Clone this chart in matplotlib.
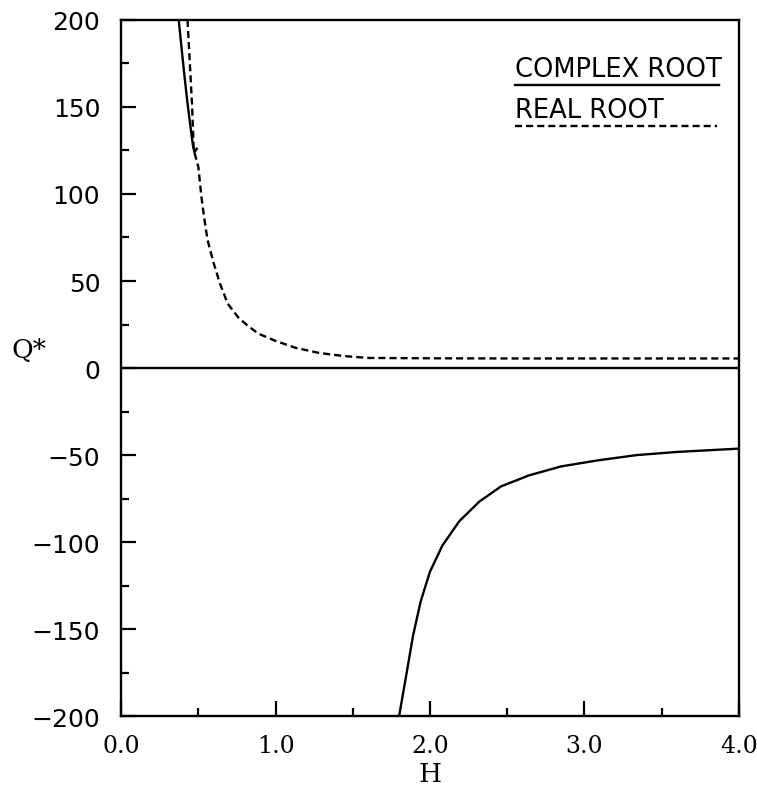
import matplotlib
matplotlib.use("Agg")
import matplotlib.pyplot as plt
from matplotlib.ticker import MultipleLocator

# complex root, upper branch (short piece near H ~ 0.4)
complex_up_h = [0.373, 0.39, 0.41, 0.43, 0.45, 0.465, 0.475, 0.49]
complex_up_q = [200, 185, 168, 152, 138, 128, 124, 126]

# complex root, lower branch
complex_low_h = [1.80, 1.85, 1.89, 1.94, 2.00, 2.08, 2.19, 2.32, 2.46, 2.64, 2.85, 3.09, 3.34, 3.60, 4.0]
complex_low_q = [-200, -174.6, -153.9, -134, -117, -102, -88, -76.7, -68, -61.7, -56.5, -53, -50, -48.2, -46.3]

# real root
real_h = [0.43, 0.46, 0.47, 0.50, 0.52, 0.54, 0.56, 0.60, 0.64, 0.69, 0.76, 0.82, 0.89,
          1.00, 1.13, 1.28, 1.44, 1.60, 2.0, 2.5, 3.0, 4.0]
real_q = [200, 150, 125.4, 115.6, 98.3, 85, 73.4, 60, 48.6, 37, 28.9, 24.3, 19.7,
          15.6, 11.6, 8.7, 6.9, 5.8, 5.6, 5.5, 5.5, 5.5]

x_ticks = [0, 1, 2, 3, 4]
x_tick_labels = ["0.0", "1.0", "2.0", "3.0", "4.0"]

xlim = (0, 4)
ylim = (-200, 200)

fig = plt.figure(figsize=(7.57, 8.04), dpi=100)
ax = fig.add_axes([0.160, 0.108, 0.816, 0.866])

lw = 1.7
dash = (3.0, 1.7)
ax.plot(complex_up_h, complex_up_q, color="black", lw=lw)
ax.plot(complex_low_h, complex_low_q, color="black", lw=lw)
ax.plot(real_h, real_q, color="black", lw=lw, dashes=dash)
ax.axhline(0, color="black", lw=lw)

ax.set_xlim(*xlim)
ax.set_ylim(*ylim)

for s in ax.spines.values():
    s.set_linewidth(1.7)

ax.set_xticks(x_ticks, x_tick_labels, family="DejaVu Serif", fontsize=17)
ax.xaxis.set_minor_locator(MultipleLocator(0.5))
ax.yaxis.set_major_locator(MultipleLocator(50))
ax.yaxis.set_minor_locator(MultipleLocator(25))

ax.tick_params(which="both", direction="in", top=False, right=False, width=1.6)
ax.tick_params(which="major", length=11)
ax.tick_params(which="minor", length=6)
ax.tick_params(axis="y", which="major", pad=15, labelsize=18)
ax.tick_params(axis="x", which="major", pad=13)

ax.set_xlabel("H", family="DejaVu Serif", fontsize=19, labelpad=3)
ax.text(-0.15, 0.527, "Q*", transform=ax.transAxes, family="DejaVu Serif",
        fontsize=19, ha="center", va="center")

# legend: label text with its line style drawn below
ax.text(0.637, 0.920, "COMPLEX ROOT", transform=ax.transAxes, fontsize=18.5,
        ha="left", va="baseline")
ax.plot([0.637, 0.968], [0.907, 0.907], transform=ax.transAxes, color="black", lw=lw)
ax.text(0.637, 0.861, "REAL ROOT", transform=ax.transAxes, fontsize=18.5,
        ha="left", va="baseline")
ax.plot([0.637, 0.965], [0.847, 0.847], transform=ax.transAxes, color="black",
        lw=lw, dashes=dash)

fig.savefig("out.png", dpi=100)
